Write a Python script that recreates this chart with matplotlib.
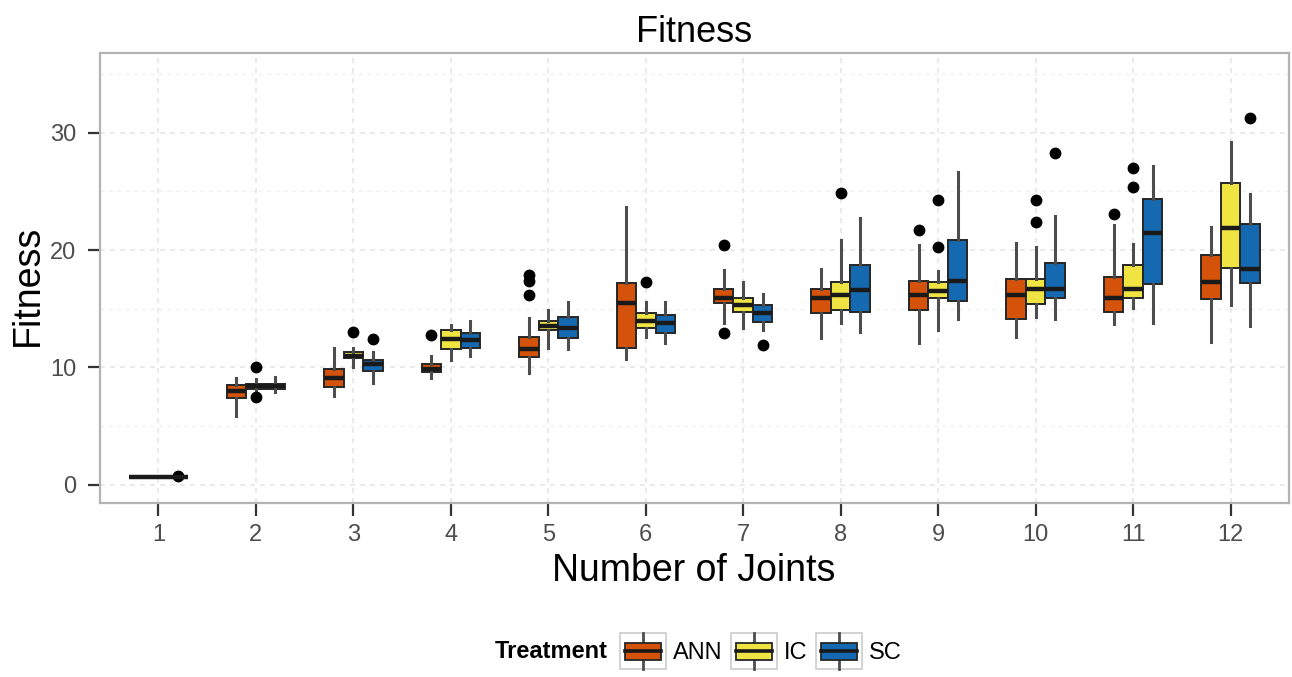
import matplotlib
matplotlib.use("Agg")
import matplotlib.pyplot as plt
from matplotlib.patches import Rectangle, Patch
from matplotlib.lines import Line2D
from matplotlib.legend_handler import HandlerBase

plt.rcParams['font.family'] = ['Liberation Sans', 'DejaVu Sans']

joints = list(range(1, 13))
treatments = ['ANN', 'IC', 'SC']
colors = {'ANN': '#D4520A', 'IC': '#F0E442', 'SC': '#1469B0'}

# box statistics, one entry per number of joints
ann_med = [0.68, 8.0, 9.1, 9.9, 11.6, 15.5, 15.9, 15.9, 16.2, 16.2, 15.9, 17.3]
ann_q1 = [0.68, 7.4, 8.3, 9.6, 10.9, 11.7, 15.5, 14.6, 14.9, 14.1, 14.7, 15.8]
ann_q3 = [0.68, 8.5, 9.9, 10.3, 12.6, 17.2, 16.7, 16.7, 17.4, 17.5, 17.7, 19.6]
ann_lo = [0.68, 5.9, 7.6, 9.1, 9.5, 10.7, 13.8, 12.5, 12.1, 12.6, 13.7, 12.2]
ann_hi = [0.68, 9.1, 11.7, 11.0, 14.2, 23.7, 18.3, 18.4, 20.4, 20.6, 22.1, 22.0]
ann_out = [[], [], [], [12.8], [16.2, 17.4, 17.9], [], [12.9, 20.4], [], [21.7], [], [23.1], []]

ic_med = [0.68, 8.4, 11.0, 12.4, 13.5, 14.0, 15.3, 16.2, 16.5, 16.7, 16.7, 21.9]
ic_q1 = [0.68, 8.2, 10.8, 11.6, 13.2, 13.4, 14.7, 14.9, 15.9, 15.4, 15.9, 18.5]
ic_q3 = [0.68, 8.6, 11.3, 13.2, 14.0, 14.6, 15.9, 17.3, 17.3, 17.5, 18.7, 25.7]
ic_lo = [0.68, 7.9, 10.0, 10.6, 11.7, 12.6, 13.4, 13.8, 13.2, 14.3, 15.1, 15.3]
ic_hi = [0.68, 9.0, 11.7, 13.6, 14.9, 15.6, 17.3, 20.9, 18.2, 20.3, 20.5, 29.2]
ic_out = [[], [7.5, 10.0], [13.0], [], [], [17.3], [], [24.9], [20.3, 24.3], [22.4, 24.3], [25.4, 27.0], []]

sc_med = [0.68, 8.4, 10.3, 12.3, 13.4, 13.8, 14.6, 16.6, 17.4, 16.7, 21.5, 18.4]
sc_q1 = [0.68, 8.2, 9.7, 11.7, 12.5, 12.9, 13.9, 14.7, 15.7, 15.9, 17.1, 17.2]
sc_q3 = [0.68, 8.6, 10.6, 12.9, 14.3, 14.5, 15.3, 18.7, 20.9, 18.9, 24.4, 22.2]
sc_lo = [0.68, 7.9, 8.7, 11.0, 11.6, 12.1, 13.2, 13.0, 14.1, 14.1, 13.8, 13.5]
sc_hi = [0.68, 9.2, 11.3, 14.0, 15.6, 15.6, 16.3, 22.7, 26.7, 22.9, 27.2, 24.8]
sc_out = [[0.72], [], [12.4], [], [], [], [11.9], [], [], [28.3], [], [31.3]]

series = {
    'ANN': (ann_med, ann_q1, ann_q3, ann_lo, ann_hi, ann_out),
    'IC': (ic_med, ic_q1, ic_q3, ic_lo, ic_hi, ic_out),
    'SC': (sc_med, sc_q1, sc_q3, sc_lo, sc_hi, sc_out),
}

fig = plt.figure(figsize=(12.92, 6.77), dpi=100)
ax = fig.add_axes([100/1292, 174/677, 1189/1292, 450/677])

dodge = 0.2
for i, t in enumerate(treatments):
    med, q1, q3, lo, hi, out = series[t]
    stats = [dict(med=med[k], q1=q1[k], q3=q3[k], whislo=lo[k], whishi=hi[k], fliers=out[k])
             for k in range(len(joints))]
    pos = [j + (i - 1) * dodge for j in joints]
    ax.bxp(stats, positions=pos, widths=dodge, patch_artist=True, showcaps=False,
           boxprops=dict(facecolor=colors[t], edgecolor='#262626', linewidth=1.4),
           medianprops=dict(color='#1a1a1a', linewidth=3.2),
           whiskerprops=dict(color='#4d4d4d', linewidth=2.2),
           flierprops=dict(marker='o', markerfacecolor='black', markeredgecolor='black',
                           markersize=7.5, linestyle='none'),
           manage_ticks=False, zorder=3)

ax.set_xlim(0.4, 12.6)
ax.set_ylim(-1.55, 36.8)
ax.set_xticks(joints)
ax.set_xticklabels([str(j) for j in joints])
ax.set_yticks([0, 10, 20, 30])
ax.set_yticks([5, 15, 25, 35], minor=True)
ax.grid(which='major', color='#e6e6e6', lw=1.2, ls=(0, (3, 3)), zorder=0)
ax.grid(which='minor', axis='y', color='#f0f0f0', lw=1.0, ls=(0, (3, 3)), zorder=0)
ax.set_axisbelow(True)
ax.tick_params(which='major', labelsize=17, labelcolor='#4d4d4d', color='#333333',
               length=9, width=1.6)
ax.tick_params(axis='y', which='major', pad=8)
ax.tick_params(axis='x', which='major', pad=6)
ax.tick_params(which='minor', length=0)
for s in ax.spines.values():
    s.set_color('#b3b3b3')
    s.set_linewidth(1.6)

fig.text(0.537, 1 - 42/677, 'Fitness', ha='center', va='baseline', fontsize=26)
fig.text(0.537, 1 - 581/677, 'Number of Joints', ha='center', va='baseline', fontsize=27)
fig.text(28/1292, 1 - 285/677, 'Fitness', ha='center', va='center', rotation=90, fontsize=27)


class BoxKey(HandlerBase):
    def create_artists(self, legend, orig_handle, xdescent, ydescent, width, height, fontsize, trans):
        x0, y0 = -xdescent, -ydescent
        c = orig_handle.get_facecolor()
        bg = Rectangle((x0, y0), width, height, facecolor='white', edgecolor='#cccccc',
                       lw=1.2, transform=trans)
        wh = Line2D([x0 + width/2] * 2, [y0, y0 + height], color='#4d4d4d', lw=2, transform=trans)
        box = Rectangle((x0 + width*0.11, y0 + height*0.26), width*0.78, height*0.46,
                        facecolor=c, edgecolor='#262626', lw=1.3, transform=trans)
        med = Line2D([x0 + width*0.11, x0 + width*0.89], [y0 + height*0.49] * 2,
                     color='#1a1a1a', lw=2.6, transform=trans)
        return [bg, wh, box, med]


handles = [Patch(facecolor=colors[t]) for t in treatments]
fig.legend(handles, treatments, handler_map={Patch: BoxKey()}, loc='center left',
           bbox_to_anchor=(620/1292, 1 - 651/677), ncol=3, frameon=False, fontsize=17,
           handlelength=1.95, handleheight=1.95, handletextpad=0.3, columnspacing=0.35,
           borderpad=0, borderaxespad=0)
fig.text(608/1292, 1 - 651/677, 'Treatment', ha='right', va='center', fontsize=17,
         fontweight='bold')

fig.savefig('out.png', dpi=100)
